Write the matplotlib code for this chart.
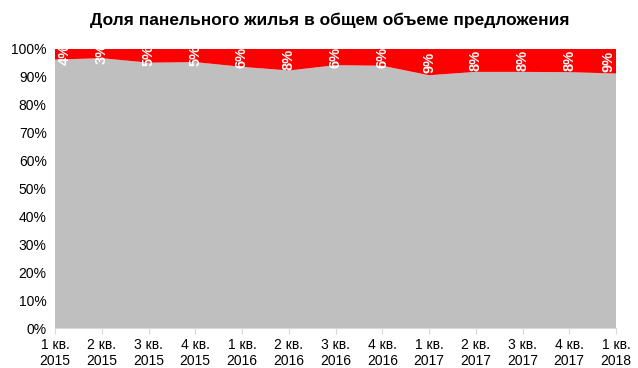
import matplotlib.pyplot as plt
from matplotlib.ticker import PercentFormatter

plt.rcParams['font.family'] = ['Liberation Sans', 'DejaVu Sans']

quarters = ["1 кв.\n2015", "2 кв.\n2015", "3 кв.\n2015", "4 кв.\n2015",
            "1 кв.\n2016", "2 кв.\n2016", "3 кв.\n2016", "4 кв.\n2016",
            "1 кв.\n2017", "2 кв.\n2017", "3 кв.\n2017", "4 кв.\n2017",
            "1 кв.\n2018"]
panel_share = [3.8, 3.3, 4.9, 4.7, 6.4, 7.7, 5.8, 6.0, 9.4, 8.2, 8.2, 8.3, 8.8]
other_share = [100 - v for v in panel_share]

fig = plt.figure(figsize=(6.38, 3.68), dpi=100)
ax = fig.add_axes([55 / 638, 1 - 328 / 368, 561 / 638, 279 / 368])

x = list(range(len(quarters)))
ax.stackplot(x, other_share, panel_share, colors=['#BFBFBF', '#FF0000'],
             linewidth=0)

# data labels centred in the red band, nudged inward at the edges
for i, v in enumerate(panel_share):
    xi = i
    if i == 0:
        xi += 0.2
    elif i == len(panel_share) - 1:
        xi -= 0.15
    ax.text(xi, 100 - v / 2, f"{round(v):d}%", rotation=90, color='white',
            fontsize=10.5, fontweight='bold', ha='center', va='center')

ax.set_xlim(0, len(quarters) - 1)
ax.set_ylim(0, 100)
ax.set_yticks(range(0, 101, 10))
ax.yaxis.set_major_formatter(PercentFormatter(decimals=0))
ax.set_xticks(x)
ax.set_xticklabels(quarters)
ax.tick_params(axis='y', length=0, labelsize=10, pad=6)
ax.tick_params(axis='x', length=4, color='#D9D9D9', labelsize=10, pad=3)

for s in ['top', 'right', 'left']:
    ax.spines[s].set_visible(False)
ax.spines['bottom'].set_color('#D9D9D9')

fig.text(330 / 638, 1 - 20 / 368, "Доля панельного жилья в общем объеме предложения",
         ha='center', va='center', fontsize=12.5, fontweight='bold')

fig.savefig("out.png", dpi=100)
